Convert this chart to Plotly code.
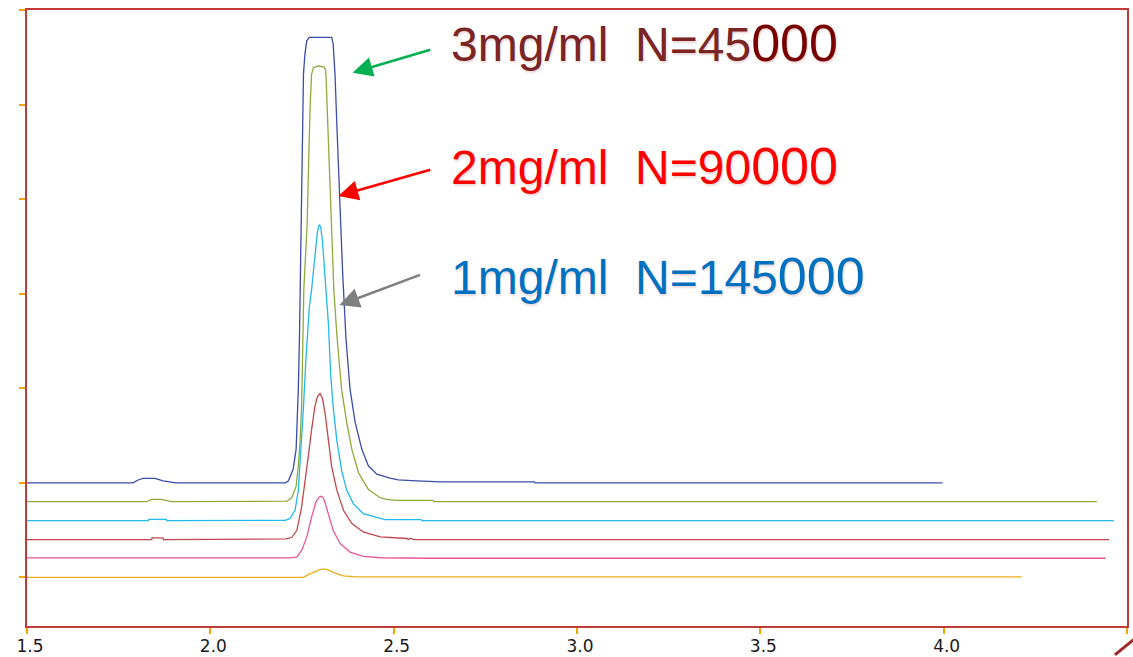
import plotly.graph_objects as go

# ---- data (retention time vs. offset detector signal) ----
blue_x = [1.500, 1.789, 1.803, 1.816, 1.849, 1.871, 1.906, 2.204, 2.213, 2.226, 2.234, 2.237, 2.240,
          2.243, 2.245, 2.248, 2.251, 2.254, 2.258, 2.263, 2.270, 2.331, 2.335, 2.340, 2.345, 2.350,
          2.356, 2.361, 2.370, 2.381, 2.395, 2.413, 2.431, 2.454, 2.490, 2.513, 2.563, 2.631, 2.884,
          2.886, 3.997]
blue_y = [1.000, 1.000, 1.030, 1.047, 1.047, 1.021, 1.000, 1.000, 1.021, 1.145, 1.357, 1.642, 1.992,
          2.521, 3.050, 3.735, 4.793, 5.325, 5.537, 5.677, 5.713, 5.713, 5.642, 5.325, 4.793, 4.265,
          3.735, 3.208, 2.521, 1.992, 1.639, 1.357, 1.180, 1.092, 1.050, 1.032, 1.021, 1.011, 1.011,
          1.000, 1.000]

green_x = [1.500, 1.826, 1.840, 1.867, 1.893, 2.209, 2.222, 2.234, 2.240, 2.245, 2.249, 2.252, 2.255,
           2.264, 2.268, 2.272, 2.276, 2.281, 2.294, 2.311, 2.315, 2.317, 2.322, 2.326, 2.331, 2.337,
           2.346, 2.358, 2.372, 2.386, 2.404, 2.431, 2.463, 2.481, 2.508, 2.607, 2.609, 4.418]
green_y = [0.800, 0.800, 0.824, 0.824, 0.800, 0.806, 0.842, 0.965, 1.177, 1.459, 1.812, 2.341, 3.047,
           3.735, 4.440, 4.969, 5.322, 5.393, 5.410, 5.399, 5.357, 5.145, 4.793, 4.264, 3.735, 3.029,
           2.517, 1.988, 1.636, 1.353, 1.107, 0.930, 0.842, 0.824, 0.814, 0.814, 0.800, 0.800]

cyan_x = [1.500, 1.831, 1.832, 1.880, 1.881, 2.204, 2.217, 2.231, 2.240, 2.246, 2.254, 2.261, 2.270,
          2.276, 2.285, 2.292, 2.297, 2.301, 2.306, 2.313, 2.322, 2.328, 2.335, 2.345, 2.358, 2.372,
          2.390, 2.417, 2.463, 2.476, 2.575, 2.577, 4.464]
cyan_y = [0.600, 0.600, 0.614, 0.614, 0.600, 0.603, 0.621, 0.709, 0.921, 1.273, 1.802, 2.331, 2.860,
          3.037, 3.372, 3.654, 3.732, 3.707, 3.548, 3.196, 2.685, 2.156, 1.802, 1.450, 1.132, 0.921,
          0.780, 0.674, 0.628, 0.611, 0.611, 0.600, 0.600]

red_x = [1.500, 1.840, 1.841, 1.871, 1.872, 2.206, 2.222, 2.236, 2.249, 2.258, 2.267, 2.276, 2.285,
         2.292, 2.299, 2.306, 2.313, 2.322, 2.331, 2.345, 2.363, 2.386, 2.417, 2.463, 2.536, 2.540,
         2.546, 2.554, 4.451]
red_y = [0.400, 0.400, 0.417, 0.417, 0.400, 0.406, 0.421, 0.498, 0.745, 0.993, 1.274, 1.557, 1.803,
         1.909, 1.945, 1.892, 1.733, 1.451, 1.168, 0.922, 0.710, 0.569, 0.480, 0.428, 0.411, 0.400,
         0.414, 0.400, 0.400]

pink_x = [1.500, 2.217, 2.236, 2.249, 2.263, 2.276, 2.288, 2.297, 2.302, 2.307, 2.311, 2.322, 2.335,
          2.354, 2.381, 2.417, 2.463, 2.600, 4.442]
pink_y = [0.205, 0.205, 0.214, 0.285, 0.425, 0.637, 0.796, 0.850, 0.858, 0.845, 0.813, 0.673, 0.497,
          0.356, 0.267, 0.221, 0.207, 0.202, 0.202]

orange_x = [1.500, 2.254, 2.267, 2.285, 2.299, 2.310, 2.326, 2.345, 2.363, 2.399, 4.213]
orange_y = [0.000, 0.000, 0.029, 0.060, 0.081, 0.089, 0.071, 0.036, 0.015, 0.005, 0.005]

series = [
    ("blue", blue_x, blue_y, "#3A4DAA"),
    ("green", green_x, green_y, "#8FA93A"),
    ("cyan", cyan_x, cyan_y, "#22B8EC"),
    ("red", red_x, red_y, "#C2474B"),
    ("pink", pink_x, pink_y, "#E8559B"),
    ("orange", orange_x, orange_y, "#E9AE1E"),
]

x_ticks = [1.5, 2.0, 2.5, 3.0, 3.5, 4.0, 4.5]
x_tick_text = ["1.5", "2.0", "2.5", "3.0", "3.5", "4.0", "4.5"]
y_ticks = [0, 1, 2, 3, 4, 5, 6]

# annotation labels: (main text, tail text, main colour, tail colour, x, y)
labels = [
    ("3mg/ml\u00a0\u00a0N=45", "000", "#7B2424", "#780000", 2.650, 5.655),
    ("2mg/ml\u00a0\u00a0N=90", "000", "#FF0000", "#FF0000", 2.650, 4.349),
    ("1mg/ml\u00a0\u00a0N=145", "000", "#0070C0", "#0070C0", 2.650, 3.184),
]
# arrows: (tip x, tip y, tail x, tail y, colour)
arrows = [
    (2.388, 5.340, 2.604, 5.587, "#00B050"),
    (2.349, 4.035, 2.604, 4.317, "#FF0000"),
    (2.352, 2.881, 2.576, 3.206, "#7F7F7F"),
]

fig = go.Figure()
for name, xs, ys, col in series:
    fig.add_trace(go.Scatter(x=xs, y=ys, mode="lines", name=name,
                             line=dict(color=col, width=1.3), hoverinfo="skip"))

for main, tail, c1, c2, lx, ly in labels:
    fig.add_annotation(
        x=lx, y=ly, xref="x", yref="y", xanchor="left", yanchor="middle",
        text=f"{main}<span style=\"font-size:52px;color:{c2}\">{tail}</span>",
        showarrow=False,
        font=dict(family="Liberation Sans, Arial, sans-serif", size=48, color=c1,
                  shadow="1px 2px 2px rgba(120,0,0,0.15)"),
    )

for tx, ty, sx, sy, col in arrows:
    fig.add_annotation(
        x=tx, y=ty, ax=sx, ay=sy, xref="x", yref="y", axref="x", ayref="y",
        text="", showarrow=True, arrowhead=2, arrowsize=1.6, arrowwidth=2.5, arrowcolor=col,
    )

# stray red pen mark at the bottom-right corner
fig.add_shape(type="line", xref="paper", yref="paper", x0=0.989, y0=-0.047, x1=1.006, y1=-0.022,
              line=dict(color="#A0282A", width=3))

frame = "#C03A3A"
fig.update_layout(
    width=1133, height=657,
    margin=dict(l=27, r=6, t=10, b=31, autoexpand=False),
    paper_bgcolor="white", plot_bgcolor="white",
    showlegend=False,
    xaxis=dict(range=[1.5, 4.5], tickvals=x_ticks, ticktext=x_tick_text, automargin=False,
               showgrid=False, zeroline=False, showline=True, linecolor=frame, linewidth=1.5,
               mirror=True, ticks="outside", ticklen=6, tickcolor="#F0A500", tickwidth=1.5,
               ticklabelshift=3, ticklabelstandoff=-2,
               tickfont=dict(family="DejaVu Sans, Verdana, sans-serif", size=17, color="#1A1A1A")),
    yaxis=dict(range=[-0.515, 6.003], tickvals=y_ticks, showticklabels=False, automargin=False,
               showgrid=False, zeroline=False, showline=True, linecolor=frame, linewidth=1.5,
               mirror=True, ticks="outside", ticklen=6, tickcolor="#F0A500", tickwidth=1.5),
)

fig.write_html("out.html", config={"displayModeBar": False},
               post_script="document.body.style.margin='0';document.body.style.overflow='hidden';")
